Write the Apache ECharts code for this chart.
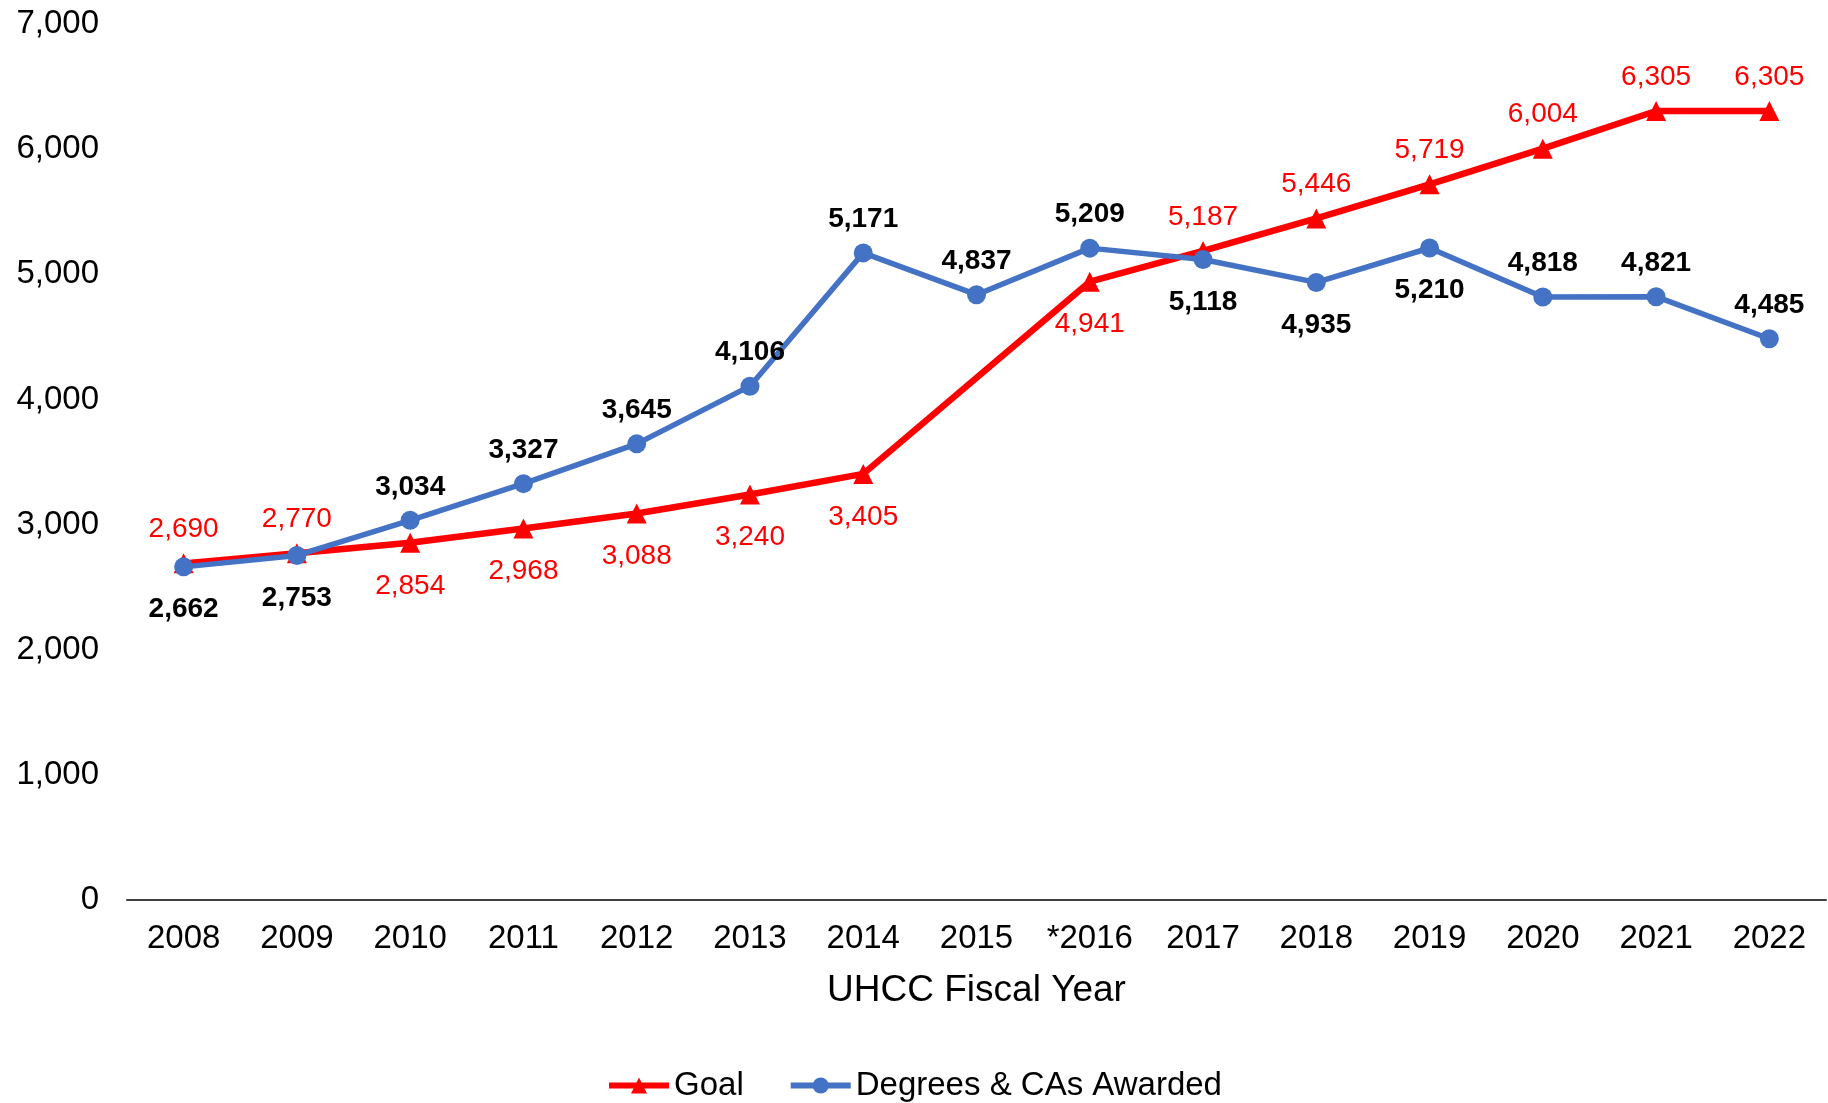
<!DOCTYPE html>
<html>
<head>
<meta charset="utf-8">
<script src="https://cdn.jsdelivr.net/npm/echarts@6/dist/echarts.min.js"></script>
<style>
  html, body { margin: 0; padding: 0; background: #fff; }
  #chart { width: 1828px; height: 1103px; }
</style>
</head>
<body>
<div id="chart"></div>
<script>
// ========== 数据 ==========
const years = ["2008", "2009", "2010", "2011", "2012", "2013", "2014", "2015",
  "*2016", "2017", "2018", "2019", "2020", "2021", "2022"];
const goal = [2690, 2770, 2854, 2968, 3088, 3240, 3405, null,
  4941, 5187, 5446, 5719, 6004, 6305, 6305];
const awarded = [2662, 2753, 3034, 3327, 3645, 4106, 5171, 4837,
  5209, 5118, 4935, 5210, 4818, 4821, 4485];
const yTicks = [0, 1000, 2000, 3000, 4000, 5000, 6000, 7000];

// labels drawn under the point for these years
const goalBelow = ["2010", "2011", "2012", "2013", "2014", "*2016"];
const awardedBelow = ["2008", "2009", "2017", "2018", "2019"];

const FONT = "'Liberation Sans', Arial, sans-serif";

function withLabelSide(values, below) {
  return values.map((v, i) => {
    const under = below.includes(years[i]);
    return {
      value: v,
      label: { position: under ? "bottom" : "top", distance: under ? 19 : 10 },
    };
  });
}

const fmt = (p) => p.value.toLocaleString("en-US");

// ========== 折线图 ==========
const chart = echarts.init(document.getElementById("chart"));
chart.setOption({
  animation: false,
  textStyle: { fontFamily: FONT },
  grid: { left: 127, right: 2, top: 24, bottom: 203 },
  legend: {
    bottom: -4,
    left: "center",
    itemWidth: 60,
    itemHeight: 20,
    itemGap: 44,
    lineStyle: { width: 6 },
    textStyle: { fontSize: 33, color: "#000", fontFamily: FONT },
    data: ["Goal", "Degrees & CAs Awarded"],
  },
  xAxis: {
    type: "category",
    data: years,
    axisLine: { lineStyle: { color: "#404040", width: 2 } },
    axisTick: { show: false },
    axisLabel: { fontSize: 33, color: "#000", margin: 22 },
    name: "UHCC Fiscal Year",
    nameLocation: "middle",
    nameGap: 72,
    nameTextStyle: { fontSize: 37, color: "#000" },
  },
  yAxis: {
    type: "value",
    min: yTicks[0],
    max: yTicks[yTicks.length - 1],
    interval: yTicks[1] - yTicks[0],
    splitLine: { show: false },
    axisLine: { show: false },
    axisTick: { show: false },
    axisLabel: {
      fontSize: 33,
      color: "#000",
      margin: 28,
      formatter: (v) => v.toLocaleString("en-US"),
    },
  },
  series: [
    {
      name: "Goal",
      type: "line",
      data: withLabelSide(goal, goalBelow),
      connectNulls: true,
      symbol: "triangle",
      symbolSize: 20,
      lineStyle: { color: "#ff0000", width: 6.5 },
      itemStyle: { color: "#ff0000" },
      label: { show: true, fontSize: 28, color: "#ff0000", formatter: fmt },
      z: 2,
    },
    {
      name: "Degrees & CAs Awarded",
      type: "line",
      data: withLabelSide(awarded, awardedBelow),
      symbol: "circle",
      symbolSize: 19,
      lineStyle: { color: "#4472c4", width: 5.5 },
      itemStyle: { color: "#4472c4" },
      label: {
        show: true,
        fontSize: 28,
        fontWeight: "bold",
        color: "#000",
        formatter: fmt,
      },
      z: 3,
    },
  ],
});

window.addEventListener("resize", () => chart.resize());
</script>
</body>
</html>
